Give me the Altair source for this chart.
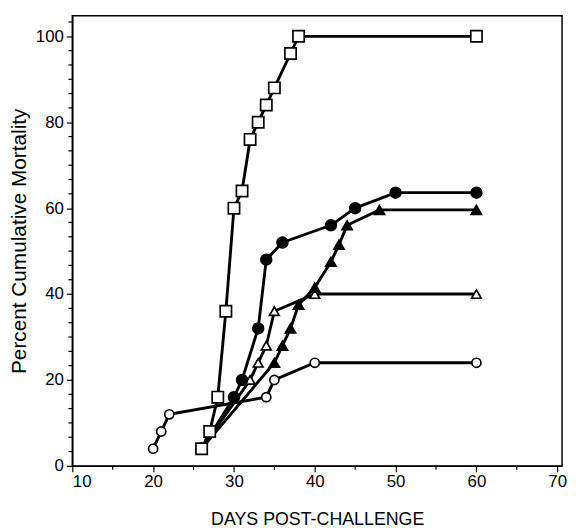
import altair as alt
import pandas as pd

# ---- data ----
open_sq_x = [26, 27, 28, 29, 30, 31, 32, 33, 34, 35, 37, 38, 60]
open_sq_y = [4, 8, 16, 36, 60, 64, 76, 80, 84, 88, 96, 100, 100]

filled_circ_x = [26, 30, 31, 33, 34, 36, 42, 45, 50, 60]
filled_circ_y = [4, 16, 20, 32, 48, 52, 56, 60, 63.6, 63.6]

filled_tri_x = [26, 35, 36, 37, 38, 40, 42, 43, 44, 48, 60]
filled_tri_y = [4, 24, 28, 32, 37.5, 41.5, 47.5, 51.5, 56, 59.6, 59.6]

open_tri_x = [26, 32, 33, 34, 35, 40, 60]
open_tri_y = [4, 20, 24, 28, 36, 40, 40]

open_circ_x = [20, 21, 22, 34, 35, 40, 60]
open_circ_y = [4, 8, 12, 16, 20, 24, 24]

series_names = ["open_circle", "open_triangle", "filled_triangle", "filled_circle", "open_square"]
series_shapes = ["circle", "triangle-up", "triangle-up", "circle", "square"]
series_fills = ["white", "white", "black", "black", "white"]
series_sizes = [85, 130, 100, 110, 130]

x_major = [10, 20, 30, 40, 50, 60, 70]
x_minor = [15, 25, 35, 45, 55, 65]
y_major = [0, 20, 40, 60, 80, 100]
y_minor = [round(i * 10 / 3, 3) for i in range(0, 32) if i % 6 != 0]

rows = []
for name, xs, ys in [
    ("open_circle", open_circ_x, open_circ_y),
    ("open_triangle", open_tri_x, open_tri_y),
    ("filled_triangle", filled_tri_x, filled_tri_y),
    ("filled_circle", filled_circ_x, filled_circ_y),
    ("open_square", open_sq_x, open_sq_y),
]:
    for i, (x, y) in enumerate(zip(xs, ys)):
        rows.append({"series": name, "day": x, "pct": y, "order": i})
df = pd.DataFrame(rows)

W, H = 495, 455
font = "Liberation Sans"
x_scale = alt.Scale(domain=[10, 70.6], nice=False, zero=False)
y_scale = alt.Scale(domain=[0, 104.8], nice=False)

base = alt.Chart(df)

lines = base.mark_line(color="black", strokeWidth=2.9).encode(
    x=alt.X(
        "day:Q",
        scale=x_scale,
        axis=alt.Axis(
            values=x_major,
            title="DAYS POST-CHALLENGE",
            titleFontWeight="normal",
            titleFontSize=18,
            titlePadding=21,
            labelFontSize=17,
            labelPadding=2,
            tickSize=6,
            grid=False,
        ),
    ),
    y=alt.Y(
        "pct:Q",
        scale=y_scale,
        axis=alt.Axis(
            values=y_major,
            title="Percent Cumulative Mortality",
            titleFontWeight="normal",
            titleFontSize=21,
            titlePadding=6,
            labelFontSize=17,
            labelPadding=3,
            tickSize=6,
            grid=False,
        ),
    ),
    detail="series:N",
    order="order:Q",
)

points = base.mark_point(filled=True, stroke="black", strokeWidth=1.7, opacity=1).encode(
    x="day:Q",
    y="pct:Q",
    shape=alt.Shape("series:N", scale=alt.Scale(domain=series_names, range=series_shapes), legend=None),
    fill=alt.Fill("series:N", scale=alt.Scale(domain=series_names, range=series_fills), legend=None),
    size=alt.Size("series:N", scale=alt.Scale(domain=series_names, range=series_sizes), legend=None),
)

minor_y = alt.Chart(pd.DataFrame({"pct": y_minor})).mark_rule(color="black", strokeWidth=1.2).encode(
    y=alt.Y("pct:Q", scale=y_scale),
    x=alt.value(-4),
    x2=alt.value(0),
)
minor_x = alt.Chart(pd.DataFrame({"day": x_minor})).mark_rule(color="black", strokeWidth=1.2).encode(
    x=alt.X("day:Q", scale=x_scale),
    y=alt.value(H),
    y2=alt.value(H + 4),
)

chart = (
    alt.layer(lines, points, minor_y, minor_x)
    .properties(
        width=W,
        height=H,
        autosize=alt.AutoSizeParams(type="none"),
        padding={"left": 65, "top": 5, "right": 6, "bottom": 60},
    )
    .configure_view(stroke="black", strokeWidth=1.5)
    .configure_axis(
        domainColor="black",
        domainWidth=1.5,
        tickColor="black",
        tickWidth=1.2,
        labelColor="black",
        titleColor="black",
        labelFont=font,
        titleFont=font,
    )
)

chart.save("out.html", embed_options={"renderer": "svg", "actions": False})
